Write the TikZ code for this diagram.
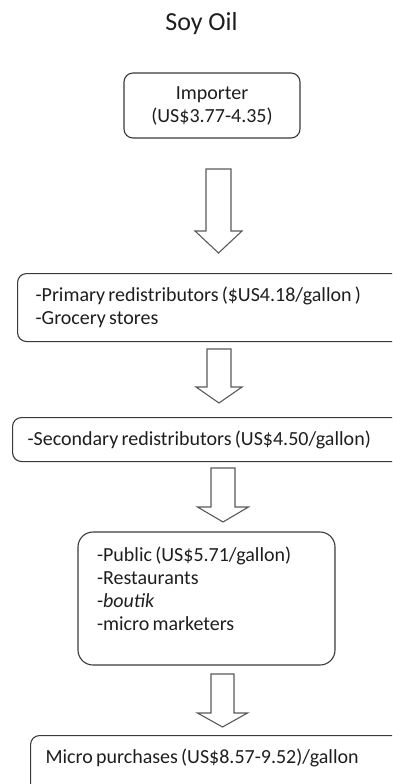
\documentclass[tikz,border=0pt]{standalone}
\usepackage{fontspec}
\setmainfont{Carlito}
\usetikzlibrary{calc}
\definecolor{boxline}{HTML}{3A3A3A}
\definecolor{arrowline}{HTML}{5A5A5A}
\definecolor{ink}{HTML}{1E1E1E}
% tight word spacing for the stage texts
\newcommand\tightspaces{\spaceskip=3.2pt plus 1pt\relax}
\begin{document}
\begin{tikzpicture}[x=1pt,y=-1pt,
  every node/.style={text=ink, font=\fontsize{20}{23}\selectfont},
  stagebox/.style={draw=boxline, line width=1.1pt, rounded corners=#1,
    execute at begin node=\tightspaces},
  % hollow block arrow from a top point down to a tip point:
  % #1 shaft half-width, #2 head half-width, #3 head length (all in pt)
  blockarrow/.style n args={3}{draw=arrowline, line width=1.1pt, fill=white,
    line join=miter,
    to path={let \p1=(\tikztostart), \p2=(\tikztotarget) in
      (\x1-#1pt,\y1) -- (\x1+#1pt,\y1) -- (\x1+#1pt,\y2+#3pt)
      -- (\x1+#2pt,\y2+#3pt) -- (\x2,\y2) -- (\x1-#2pt,\y2+#3pt)
      -- (\x1-#1pt,\y2+#3pt) -- cycle}}
]
\useasboundingbox (0,0) rectangle (392,784);
\clip (0,0) rectangle (392,784);

% title
\node (title) at (201.5,24) {\fontsize{26}{30}\selectfont Soy Oil};

% stages of the supply chain
\node[stagebox=9pt, minimum width=176pt, minimum height=65pt, align=center]
  (importer) at (212,105.5) {Importer\\(US\$3.77-4.35)};

\node[stagebox=9pt, anchor=north west, minimum width=420pt, minimum height=68pt,
  inner xsep=18pt, text width=384pt, align=left]
  (primary) at (17,273)
  {-Primary redistributors (\$US4.18/gallon )\\-Grocery stores};

\node[stagebox=9pt, anchor=north west, minimum width=420pt, minimum height=44pt,
  inner xsep=15pt, text width=390pt, align=left]
  (secondary) at (12,417)
  {-Secondary redistributors (US\$4.50/gallon)};

\node[stagebox=15pt, minimum width=257pt, minimum height=133pt, inner sep=0pt]
  (public) at (206.5,598.5)
  {\parbox[c][103pt][t]{219pt}{\tightspaces -Public (US\$5.71/gallon)\\-Restaurants\\-\textit{boutik}\\-micro marketers}};

\node[stagebox=9pt, anchor=north west, minimum width=420pt, inner xsep=15pt,
  inner ysep=0pt, text width=390pt, align=left, text height=28pt, text depth=40pt]
  (micro) at (30,735) {Micro purchases (US\$8.57-9.52)/gallon};

% arrow end points
\coordinate (a1top) at (218.5,169); \coordinate (a1tip) at (218.5,253);
\coordinate (a2top) at (219,349);   \coordinate (a2tip) at (219,403);
\coordinate (a3top) at (223,468);   \coordinate (a3tip) at (223,522);
\coordinate (a4top) at (222.5,674); \coordinate (a4tip) at (222.5,727);

\draw[blockarrow={12.5}{23.5}{22}] (a1top) to (a1tip);
\draw[blockarrow={12}{23}{16}] (a2top) to (a2tip);
\draw[blockarrow={12}{25.5}{15}] (a3top) to (a3tip);
\draw[blockarrow={11.5}{25}{14}] (a4top) to (a4tip);
\end{tikzpicture}
\end{document}
